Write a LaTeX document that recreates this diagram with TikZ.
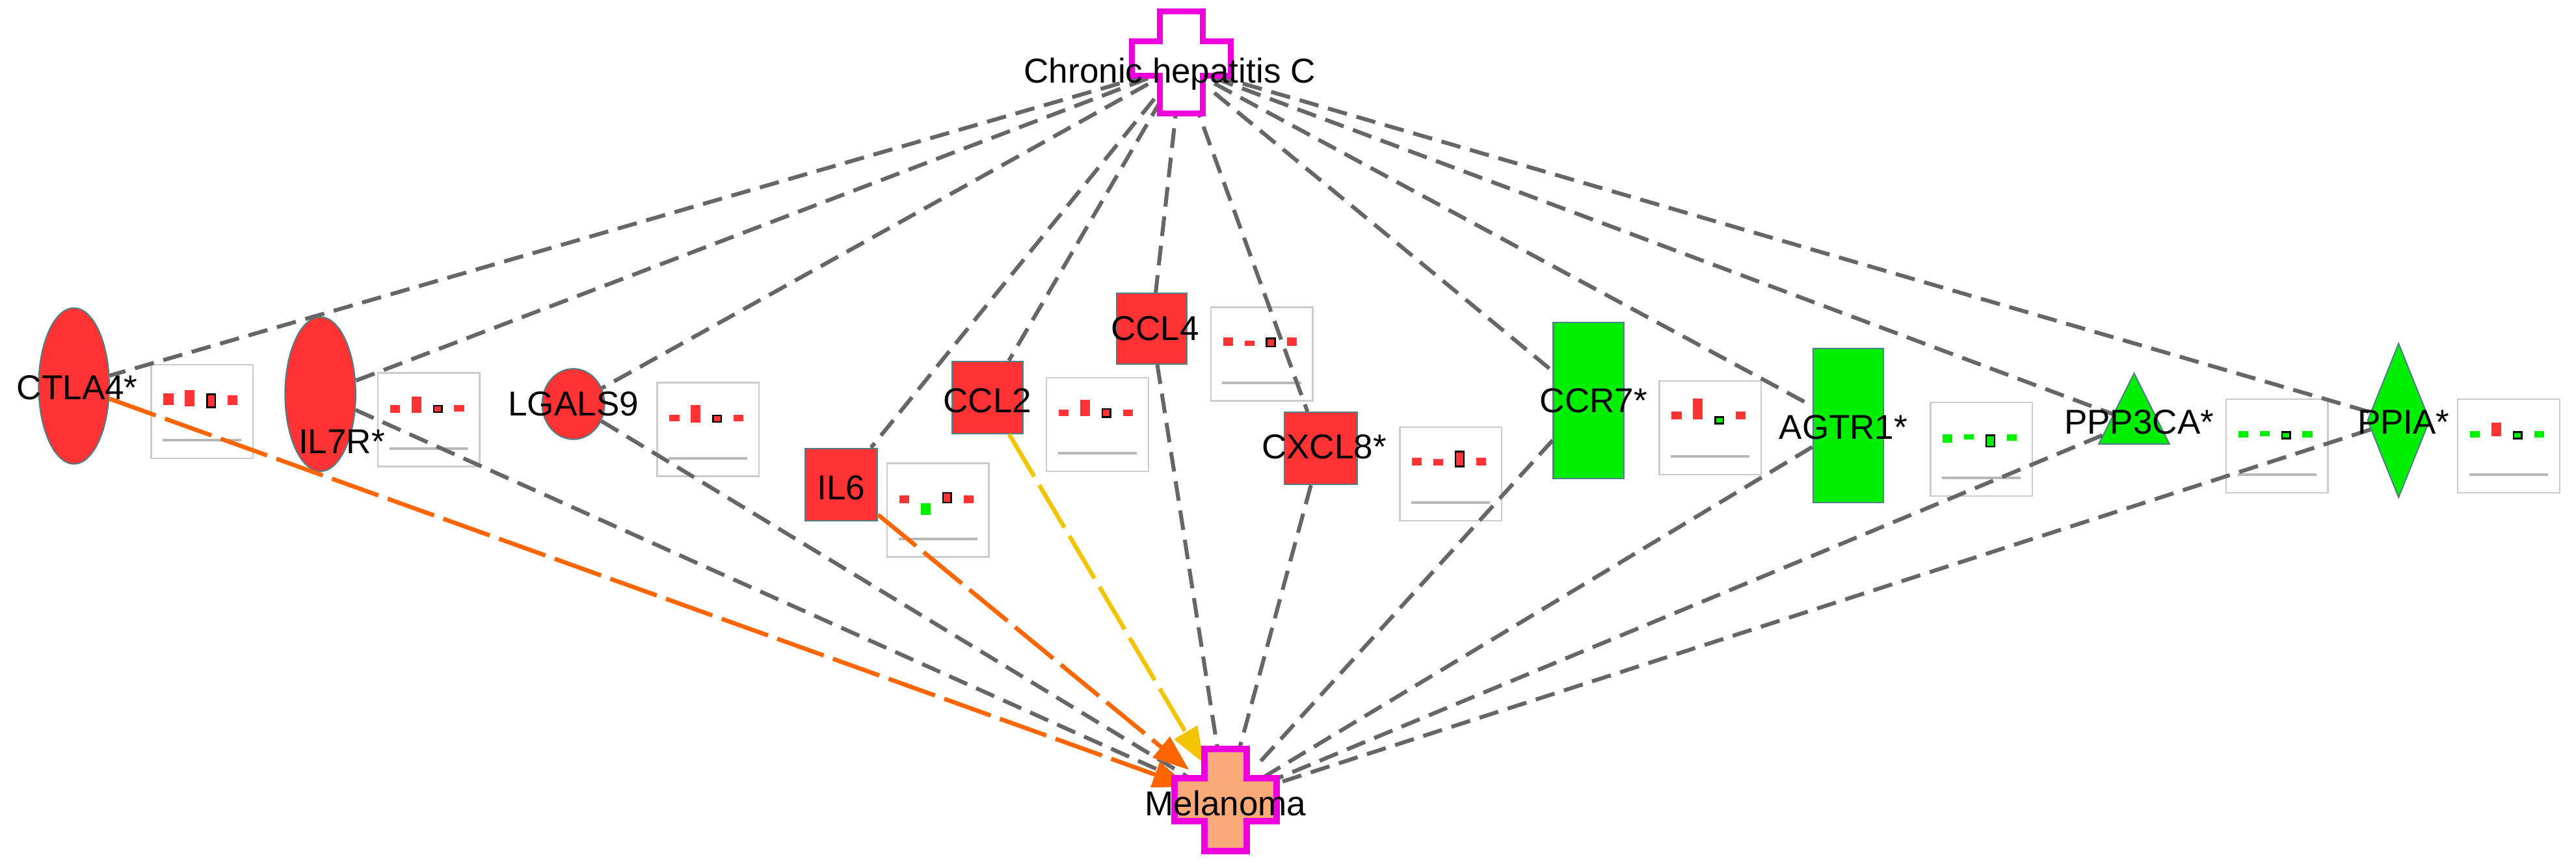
\documentclass[tikz,border=0pt]{standalone}
\usepackage{fontspec}
\setmainfont{Liberation Sans}
\usetikzlibrary{shapes.geometric,arrows.meta}
\definecolor{nred}{HTML}{FF3333}
\definecolor{ngreen}{HTML}{00EE00}
\definecolor{egrey}{HTML}{666666}
\definecolor{eorange}{HTML}{FF6600}
\definecolor{eyellow}{HTML}{F2C500}
\definecolor{mag}{HTML}{EE00DD}
\definecolor{melfill}{HTML}{FAAA78}
\definecolor{bord}{HTML}{4F7F86}
\tikzset{
  gene/.style={fill=#1,draw=bord,line width=0.8pt,inner sep=0pt},
  lbl/.style={font=\fontsize{21}{21}\selectfont,inner sep=0pt,text=black},
  rel/.style={draw=egrey,line width=2.4pt,dash pattern=on 12pt off 6pt},
  relo/.style={draw=eorange,line width=2.6pt,dash pattern=on 30pt off 6pt,-{Triangle[length=22pt,width=16pt]}},
  rely/.style={draw=eyellow,line width=2.6pt,dash pattern=on 30pt off 6pt,-{Triangle[length=22pt,width=16pt]}},
  cbox/.style={draw=black!20,line width=1pt,fill=white},
}
% #1 x, #2 y (top-left), #3 bars: idx/top/bottom/colour/outline
\newcommand\minichart[3]{%
  \draw[cbox] (#1,#2) rectangle ++(62,57);
  \draw[black!28,line width=1.6pt] (#1+7,#2+46) -- (#1+55,#2+46);
  \foreach \i/\t/\b/\c/\o in {#3}{%
    \path[fill=\c,draw=\o,line width=1pt] (#1+8+13*\i-13,#2+21+\t) rectangle ++(5,\b-\t);
  }%
}
\begin{document}
\begin{tikzpicture}[x=1pt,y=-1pt]
\useasboundingbox (0,0) rectangle (1568,527);
% disease nodes (shape anchors)
\node[minimum width=40pt,minimum height=40pt,inner sep=0pt] (hc) at (719,40) {};
\node[minimum width=44pt,minimum height=44pt,inner sep=0pt] (mel) at (746,487) {};
% genes
\node[gene=nred,ellipse,minimum width=43pt,minimum height=95pt] (ctla4) at (45,235) {};
\node[gene=nred,ellipse,minimum width=43pt,minimum height=94pt] (il7r) at (195,240) {};
\node[gene=nred,ellipse,minimum width=38pt,minimum height=43pt] (lgals9) at (349,246) {};
\node[gene=nred,rectangle,minimum width=44pt,minimum height=44pt] (il6) at (512,295) {};
\node[gene=nred,rectangle,minimum width=43pt,minimum height=44pt] (ccl2) at (601,242) {};
\node[gene=nred,rectangle,minimum width=43pt,minimum height=43pt] (ccl4) at (701,200) {};
\node[gene=nred,rectangle,minimum width=44pt,minimum height=44pt] (cxcl8) at (804,273) {};
\node[gene=ngreen,rectangle,minimum width=43pt,minimum height=95pt] (ccr7) at (967,244) {};
\node[gene=ngreen,rectangle,minimum width=43pt,minimum height=94pt] (agtr1) at (1125,259) {};
\node[gene=ngreen,isosceles triangle,shape border rotate=90,isosceles triangle stretches,minimum width=43pt,minimum height=43pt] (ppp3ca) at (1299,257) {};
\node[gene=ngreen,diamond,minimum width=38pt,minimum height=94pt] (ppia) at (1460,256) {};
% charts
\minichart{92}{222}{1/-3/3/nred/nred,2/-5/4/nred/nred,3/-3/5/nred/black,4/-2/3/nred/nred}
\minichart{230}{227}{1/-1/3/nred/nred,2/-6/3/nred/nred,3/-1/3/nred/black,4/-1/2/nred/nred}
\minichart{400}{233}{1/-1/2/nred/nred,2/-7/3/nred/nred,3/-1/3/nred/black,4/-1/2/nred/nred}
\minichart{540}{282}{1/-1/3/nred/nred,2/4/10/ngreen/ngreen,3/-3/3/nred/black,4/-1/3/nred/nred}
\minichart{637}{230}{1/-1/2/nred/nred,2/-7/2/nred/nred,3/-2/3/nred/black,4/-1/2/nred/nred}
\minichart{737}{187}{1/-2/2/nred/nred,2/0/2/nred/nred,3/-2/3/nred/black,4/-2/2/nred/nred}
\minichart{852}{260}{1/-2/2/nred/nred,2/-1/2/nred/nred,3/-6/3/nred/black,4/-2/2/nred/nred}
\minichart{1010}{232}{1/-2/2/nred/nred,2/-10/2/nred/nred,3/1/5/ngreen/black,4/-2/2/nred/nred}
\minichart{1175}{245}{1/-1/3/ngreen/ngreen,2/-1/1/ngreen/ngreen,3/-1/6/ngreen/black,4/-1/2/ngreen/ngreen}
\minichart{1355}{243}{1/-1/2/ngreen/ngreen,2/-1/1/ngreen/ngreen,3/-1/3/ngreen/black,4/-1/2/ngreen/ngreen}
\minichart{1496}{243}{1/-1/2/ngreen/ngreen,2/-6/1/nred/nred,3/-1/3/ngreen/black,4/-1/2/ngreen/ngreen}
% edges from Chronic hepatitis C
\foreach \g in {ctla4,il7r,lgals9,il6,ccl2,ccl4,cxcl8,ccr7,agtr1,ppp3ca,ppia}
  \draw[rel] (hc) -- (\g);
% edges to Melanoma
\foreach \g in {il7r,lgals9,ccl4,cxcl8,ccr7,agtr1,ppp3ca,ppia}
  \draw[rel] (\g) -- (mel);
\draw[relo] (ctla4) -- (mel);
\draw[relo] (il6) -- (mel);
\draw[rely] (ccl2) -- (mel);
% disease crosses
\draw[mag,line width=3.5pt,fill=white] (706,7) -- (732,7) -- (732,25) -- (749,25) -- (749,46) -- (732,46) -- (732,69) -- (706,69) -- (706,46) -- (689,46) -- (689,25) -- (706,25) -- cycle;
\draw[mag,line width=4pt,fill=melfill] (733,456) -- (759,456) -- (759,474) -- (777,474) -- (777,500) -- (759,500) -- (759,518) -- (733,518) -- (733,500) -- (715,500) -- (715,474) -- (733,474) -- cycle;
% labels
\node[lbl] (lhc) at (712,45) {Chronic hepatitis C};
\node[lbl] (lmel) at (746,489) {Melanoma};
\node[lbl] (lctla4) at (47,236) {CTLA4*};
\node[lbl] (lil7r) at (208,269) {IL7R*};
\node[lbl] (llgals9) at (349,246) {LGALS9};
\node[lbl] (lil6) at (512,297) {IL6};
\node[lbl] (lccl2) at (601,244) {CCL2};
\node[lbl] (lccl4) at (703,200) {CCL4};
\node[lbl] (lcxcl8) at (806,272) {CXCL8*};
\node[lbl] (lccr7) at (970,244) {CCR7*};
\node[lbl] (lagtr1) at (1122,260) {AGTR1*};
\node[lbl] (lppp3ca) at (1302,257) {PPP3CA*};
\node[lbl] (lppia) at (1463,257) {PPIA*};
\end{tikzpicture}
\end{document}
